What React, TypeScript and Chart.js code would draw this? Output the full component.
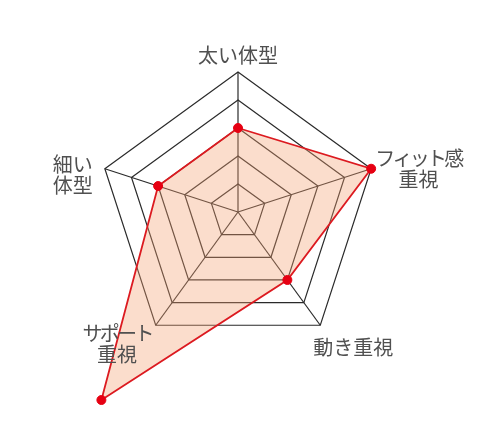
import React, { useEffect, useRef } from "react";
import { Chart, registerables } from "chart.js";

Chart.register(...registerables);

// ---- data ----
const categories: string[][] = [
  ["太い体型"],
  ["フィット感", "重視"],
  ["動き重視"],
  ["サポート", "重視"],
  ["細い", "体型"],
];
const seriesValues: number[] = [3, 5, 3, 8.3, 3];
const tickValues: number[] = [0, 1, 2, 3, 4, 5];

// ---- styling / placement (not data) ----
type Align = "left" | "center" | "right";
const labelPlacement: { align: Align; dx: number; dy: number }[] = [
  { align: "center", dx: 0, dy: -17 },
  { align: "left", dx: 4, dy: 0 },
  { align: "left", dx: -7, dy: 22.5 },
  { align: "right", dx: -4, dy: 18.5 },
  { align: "right", dx: -12, dy: 6 },
];
const RADAR_GEOMETRY = { cx: 238, cy: 212, radius: 140 };
const LABEL_FONT = '20px "Noto Sans CJK JP", "Noto Sans", sans-serif';
const LABEL_COLOR = "#505050";
const LINE_HEIGHT = 20.5;
const KANA_RE = /[\u30A0-\u30FF]/;

const labelPlugin = {
  id: "customPointLabels",
  afterDatasetsDraw(chart: any) {
    const scale = chart.scales.r;
    const ctx: CanvasRenderingContext2D = chart.ctx;
    ctx.save();
    ctx.font = LABEL_FONT;
    ctx.fillStyle = LABEL_COLOR;
    ctx.textBaseline = "middle";
    ctx.textAlign = "center";
    categories.forEach((lines, i) => {
      const p = scale.getPointPosition(i, scale.drawingArea);
      const pl = labelPlacement[i];
      const widths = lines.map((t) => {
        (ctx as any).letterSpacing = KANA_RE.test(t) ? "-2.7px" : "0px";
        return ctx.measureText(t).width;
      });
      const maxW = Math.max(...widths);
      const ax = p.x + pl.dx;
      const cx = pl.align === "left" ? ax + maxW / 2 : pl.align === "right" ? ax - maxW / 2 : ax;
      const cy = p.y + pl.dy;
      lines.forEach((t, j) => {
        (ctx as any).letterSpacing = KANA_RE.test(t) ? "-2.7px" : "0px";
        const y = cy + (j - (lines.length - 1) / 2) * LINE_HEIGHT;
        ctx.fillText(t, cx, y);
      });
    });
    (ctx as any).letterSpacing = "0px";
    ctx.restore();
  },
};

export default function App() {
  const canvasRef = useRef<HTMLCanvasElement | null>(null);

  useEffect(() => {
    if (!canvasRef.current) return;
    const chart = new Chart(canvasRef.current, {
      type: "radar",
      data: {
        labels: categories.map((l) => l.join("")),
        datasets: [
          {
            data: seriesValues,
            backgroundColor: "rgba(245, 160, 115, 0.36)",
            borderColor: "#dc1a20",
            borderWidth: 1.8,
            pointBackgroundColor: "#e60012",
            pointBorderColor: "#e60012",
            pointBorderWidth: 1,
            pointRadius: 4.5,
            fill: true,
            tension: 0,
            clip: false as any,
          },
        ],
      },
      options: {
        responsive: false,
        animation: false,
        layout: { padding: 0 },
        plugins: {
          legend: { display: false },
          tooltip: { enabled: false },
        },
        scales: {
          r: {
            min: tickValues[0],
            max: tickValues[tickValues.length - 1],
            ticks: { display: false, stepSize: 1 },
            grid: { color: "#2a2a2a", lineWidth: 1.2 },
            angleLines: { color: "#2a2a2a", lineWidth: 1.2 },
            pointLabels: { display: false },
            afterFit: (scale: any) => {
              scale.xCenter = RADAR_GEOMETRY.cx;
              scale.yCenter = RADAR_GEOMETRY.cy;
              scale.drawingArea = RADAR_GEOMETRY.radius;
            },
          } as any,
        },
      },
      plugins: [labelPlugin],
    });
    return () => chart.destroy();
  }, []);

  return (
    <div style={{ position: "absolute", left: 0, top: 0, width: 503, height: 442, background: "#fff" }}>
      <canvas ref={canvasRef} width={503} height={442} style={{ width: 503, height: 442 }} />
    </div>
  );
}
